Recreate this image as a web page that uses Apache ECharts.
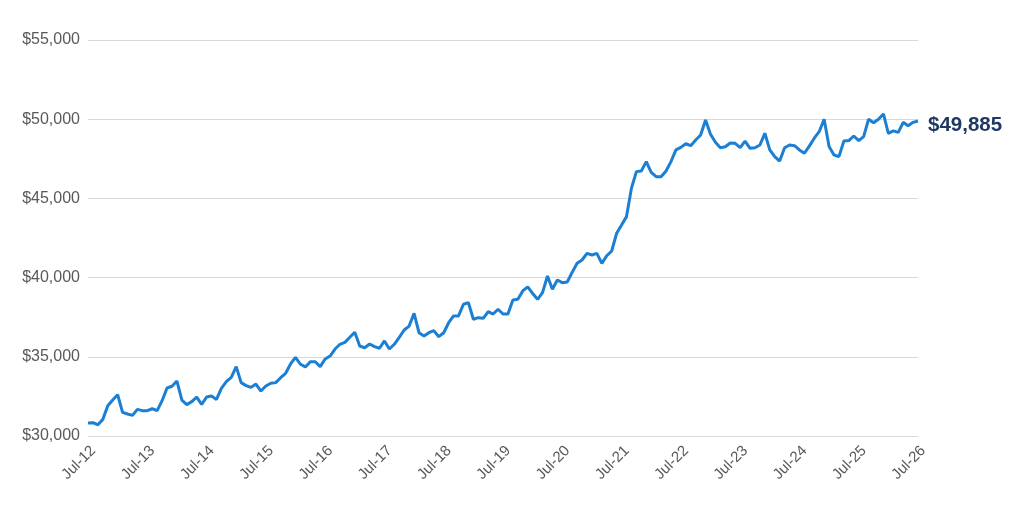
<!DOCTYPE html>
<html>
<head>
<meta charset="utf-8">
<script src="https://cdn.jsdelivr.net/npm/echarts@6/dist/echarts.min.js"></script>
<style>
  html, body { margin: 0; padding: 0; background: #ffffff; }
  #chart { width: 1024px; height: 511px; }
</style>
</head>
<body>
<div id="chart"></div>
<script>
// Month names and years used to build the monthly category labels (Jul-12 .. Jul-26)
var monthNames = ['Jan','Feb','Mar','Apr','May','Jun','Jul','Aug','Sep','Oct','Nov','Dec'];
var startYear = 2012, startMonth = 6, monthCount = 169;

// Monthly values (Jul-12 .. Jul-26)
var values = [
  30820, 30840, 30710, 31050, 31910, 32270, 32610, 31490, 31390, 31300, 31680, 31600,
  31600, 31720, 31600, 32230, 33030, 33140, 33470, 32270, 31980, 32170, 32460, 32000,
  32460, 32520, 32310, 33010, 33430, 33700, 34380, 33370, 33180, 33070, 33280, 32840,
  33160, 33330, 33370, 33680, 33960, 34550, 34970, 34530, 34360, 34690, 34690, 34380,
  34860, 35050, 35490, 35790, 35910, 36230, 36550, 35680, 35570, 35810, 35640, 35540,
  36000, 35490, 35790, 36230, 36690, 36940, 37740, 36520, 36310, 36520, 36650, 36270,
  36520, 37150, 37580, 37580, 38320, 38420, 37370, 37470, 37430, 37850, 37700, 38000,
  37700, 37700, 38590, 38630, 39160, 39420, 39000, 38630, 39050, 40100, 39260, 39850,
  39680, 39720, 40330, 40900, 41110, 41530, 41430, 41530, 40900, 41380, 41680, 42800,
  43320, 43850, 45640, 46690, 46730, 47320, 46650, 46370, 46370, 46730, 47320, 48060,
  48220, 48450, 48330, 48690, 49000, 49950, 49050, 48540, 48200, 48260, 48500, 48480,
  48200, 48620, 48160, 48200, 48370, 49110, 48060, 47640, 47360, 48200, 48370, 48330,
  48060, 47850, 48300, 48800, 49210, 50000, 48270, 47740, 47640, 48620, 48650, 48940,
  48650, 48900, 50000, 49780, 50000, 50330, 49110, 49260, 49170, 49800, 49590, 49800,
  49885
];

// Y-axis tick values
var yTicks = [30000, 35000, 40000, 45000, 50000, 55000];

var categories = [];
for (var i = 0; i < monthCount; i++) {
  var m = (startMonth + i) % 12;
  var y = startYear + Math.floor((startMonth + i) / 12);
  categories.push(monthNames[m] + '-' + String(y % 100).padStart(2, '0'));
}

function money(v) {
  return '$' + String(Math.round(v)).replace(/\B(?=(\d{3})+(?!\d))/g, ',');
}

var FONT = 'Liberation Sans, Arial, sans-serif';
var chart = echarts.init(document.getElementById('chart'));
chart.setOption({
  animation: false,
  backgroundColor: '#ffffff',
  textStyle: { fontFamily: FONT },
  grid: { left: 88, right: 106, top: 40, bottom: 75, containLabel: false },
  xAxis: {
    type: 'category',
    data: categories,
    boundaryGap: false,
    axisLine: { show: true, lineStyle: { color: '#d9d9d9', width: 1 } },
    axisTick: { show: false },
    axisLabel: {
      interval: function (idx) { return idx % 12 === 0; },
      rotate: 45,
      margin: 7,
      verticalAlign: 'top',
      color: '#595959',
      fontSize: 15,
      fontFamily: FONT
    },
    splitLine: { show: false }
  },
  yAxis: {
    type: 'value',
    min: yTicks[0],
    max: yTicks[yTicks.length - 1],
    interval: yTicks[1] - yTicks[0],
    axisLine: { show: false },
    axisTick: { show: false },
    axisLabel: {
      formatter: money,
      color: '#595959',
      fontSize: 16,
      margin: 8,
      fontFamily: FONT
    },
    splitLine: { lineStyle: { color: '#d9d9d9', width: 1 } }
  },
  series: [{
    type: 'line',
    data: values,
    showSymbol: false,
    smooth: false,
    lineStyle: { color: '#1b7fd3', width: 3 },
    itemStyle: { color: '#1b7fd3' },
    endLabel: {
      show: true,
      formatter: function (p) { return money(p.value); },
      color: '#1f3864',
      fontSize: 20.5,
      fontWeight: 'bold',
      distance: 10,
      offset: [0, 4],
      fontFamily: FONT
    }
  }]
});
</script>
</body>
</html>
